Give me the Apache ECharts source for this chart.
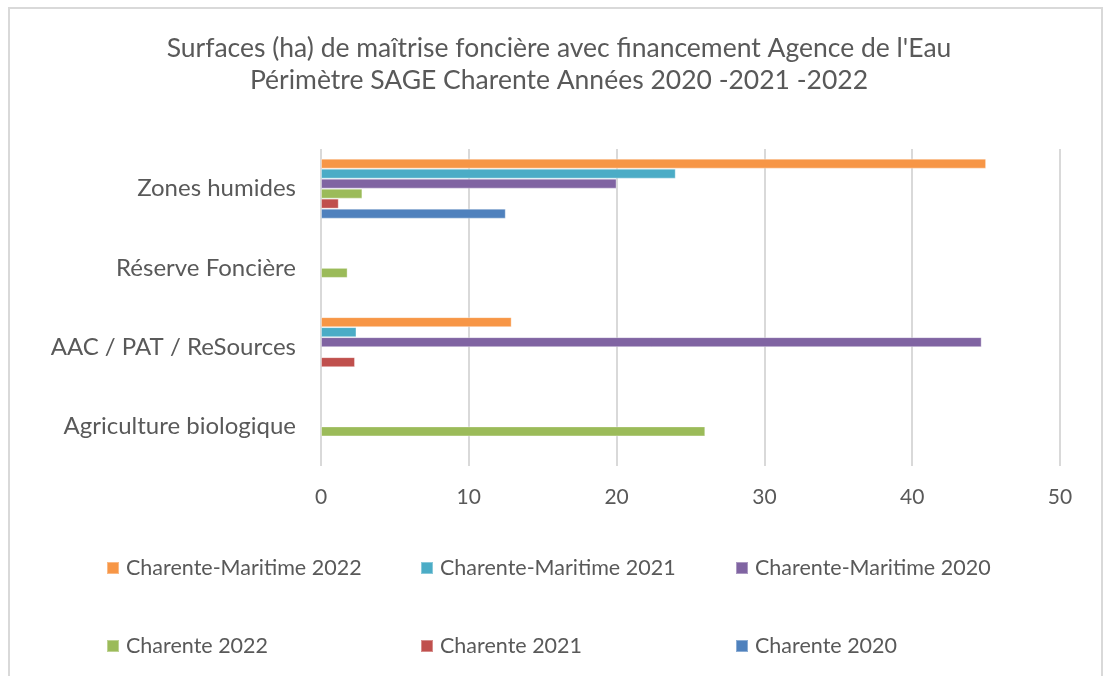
<!DOCTYPE html>
<html><head><meta charset="utf-8">
<script src="https://cdn.jsdelivr.net/npm/echarts@6/dist/echarts.min.js"></script>
<style>html,body{margin:0;padding:0;background:#fff}#c{width:1106px;height:676px}</style>
</head><body><div id="c"></div>
<script>
var categories = ['Zones humides', 'Réserve Foncière', 'AAC / PAT / ReSources', 'Agriculture biologique'];
var seriesNames = ['Charente-Maritime 2022', 'Charente-Maritime 2021', 'Charente-Maritime 2020', 'Charente 2022', 'Charente 2021', 'Charente 2020'];
var cm2022 = [45, null, 12.9, null];
var cm2021 = [24, null, 2.4, null];
var cm2020 = [20, null, 44.7, null];
var ch2022 = [2.8, 1.8, null, 26];
var ch2021 = [1.2, null, 2.3, null];
var ch2020 = [12.5, null, null, null];
var xTicks = [0, 10, 20, 30, 40, 50];
var colors = ['#F79646', '#4BACC6', '#8064A2', '#9BBB59', '#C0504D', '#4F81BD'];
var values = [cm2022, cm2021, cm2020, ch2022, ch2021, ch2020];

var FONT = 'Lato';
var TXT = '#595959';
var legendPos = [[106, 557], [420, 557], [735, 557], [106, 635], [420, 635], [735, 635]];

var chart = echarts.init(document.getElementById('c'), null, {renderer: 'canvas'});
var option = {
  animation: false,
  backgroundColor: '#fff',
  title: {
    text: 'Surfaces (ha) de maîtrise foncière avec financement Agence de l\'Eau\nPérimètre SAGE Charente Années 2020 -2021 -2022',
    left: 554, top: 27, textAlign: 'center',
    textStyle: {fontFamily: FONT, fontSize: 26.5, fontWeight: 'normal', color: TXT, lineHeight: 32}
  },
  legend: seriesNames.map(function (n, i) {
    return {
      data: [n], left: legendPos[i][0], top: legendPos[i][1],
      itemWidth: 12, itemHeight: 12, itemGap: 0, icon: 'rect', padding: 0,
      textStyle: {fontFamily: FONT, fontSize: 21.5, color: TXT, padding: [0, 0, 0, 2]}
    };
  }),
  graphic: [{
    type: 'rect', silent: true,
    shape: {x: 9, y: 8, width: 1093, height: 720},
    style: {fill: null, stroke: '#D9D9D9', lineWidth: 2}
  }],
  grid: {left: 321, right: 46, top: 149, bottom: 210, containLabel: false},
  xAxis: {
    type: 'value', min: 0, max: 50, interval: 10,
    axisLine: {show: false}, axisTick: {show: false},
    splitLine: {show: true, lineStyle: {color: '#D9D9D9', width: 2}},
    axisLabel: {fontFamily: FONT, fontSize: 21, color: TXT, margin: 21,
      formatter: function (v) { return xTicks.indexOf(v) >= 0 ? String(v) : ''; }}
  },
  yAxis: {
    type: 'category', data: categories, inverse: true,
    axisLine: {show: false}, axisTick: {show: false},
    axisLabel: {fontFamily: FONT, fontSize: 24, color: TXT, margin: 25}
  },
  series: seriesNames.map(function (n, i) {
    return {
      name: n, type: 'bar', data: values[i], barWidth: 10, barGap: '0%',
      itemStyle: {color: colors[i], borderColor: 'rgba(255,255,255,0.35)', borderWidth: 1}
    };
  })
};
chart.setOption(option);
</script></body></html>
